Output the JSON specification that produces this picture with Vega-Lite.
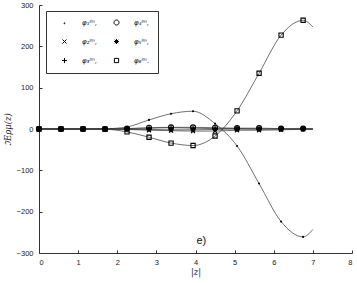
{
  "$schema": "https://vega.github.io/schema/vega-lite/v6.json",
  "width": 313,
  "height": 248,
  "autosize": "none",
  "padding": {"left": 39, "top": 5, "right": 5, "bottom": 30},
  "config": {
    "view": {"stroke": null},
    "font": "Liberation Sans",
    "axis": {"labelFont": "Liberation Sans", "labelFontSize": 7.5, "labelColor": "#222", "domainColor": "#333", "tickColor": "#333", "grid": false, "titleFont": "DejaVu Serif", "titleFontWeight": "normal", "titleFontStyle": "italic", "titleFontSize": 8.5, "titleColor": "#222"}
  },
  "datasets": {
    "curves": [
      {"s": "φ₁ˡᵐ,", "x": 0, "y": 0}, {"s": "φ₁ˡᵐ,", "x": 0.5625, "y": 0}, {"s": "φ₁ˡᵐ,", "x": 1.125, "y": 0}, {"s": "φ₁ˡᵐ,", "x": 1.6875, "y": 0.5},
      {"s": "φ₁ˡᵐ,", "x": 2.25, "y": 5}, {"s": "φ₁ˡᵐ,", "x": 2.8125, "y": 22}, {"s": "φ₁ˡᵐ,", "x": 3.375, "y": 37}, {"s": "φ₁ˡᵐ,", "x": 3.9375, "y": 43},
      {"s": "φ₁ˡᵐ,", "x": 4.5, "y": 13}, {"s": "φ₁ˡᵐ,", "x": 5.0625, "y": -41}, {"s": "φ₁ˡᵐ,", "x": 5.625, "y": -132}, {"s": "φ₁ˡᵐ,", "x": 6.1875, "y": -224},
      {"s": "φ₁ˡᵐ,", "x": 6.75, "y": -261}, {"s": "φ₁ˡᵐ,", "x": 7.0, "y": -243},

      {"s": "φ₂ˡᵐ,", "x": 0, "y": 0}, {"s": "φ₂ˡᵐ,", "x": 0.5625, "y": 0}, {"s": "φ₂ˡᵐ,", "x": 1.125, "y": 0}, {"s": "φ₂ˡᵐ,", "x": 1.6875, "y": 0},
      {"s": "φ₂ˡᵐ,", "x": 2.25, "y": -1}, {"s": "φ₂ˡᵐ,", "x": 2.8125, "y": -3}, {"s": "φ₂ˡᵐ,", "x": 3.375, "y": -4}, {"s": "φ₂ˡᵐ,", "x": 3.9375, "y": -5},
      {"s": "φ₂ˡᵐ,", "x": 4.5, "y": -5}, {"s": "φ₂ˡᵐ,", "x": 5.0625, "y": -3}, {"s": "φ₂ˡᵐ,", "x": 5.625, "y": -3}, {"s": "φ₂ˡᵐ,", "x": 6.1875, "y": -2},
      {"s": "φ₂ˡᵐ,", "x": 6.75, "y": -1}, {"s": "φ₂ˡᵐ,", "x": 7.0, "y": -1},

      {"s": "φ₃ˡᵐ,", "x": 0, "y": 0}, {"s": "φ₃ˡᵐ,", "x": 0.5625, "y": 0}, {"s": "φ₃ˡᵐ,", "x": 1.125, "y": 0}, {"s": "φ₃ˡᵐ,", "x": 1.6875, "y": 0},
      {"s": "φ₃ˡᵐ,", "x": 2.25, "y": 1}, {"s": "φ₃ˡᵐ,", "x": 2.8125, "y": 2}, {"s": "φ₃ˡᵐ,", "x": 3.375, "y": 3}, {"s": "φ₃ˡᵐ,", "x": 3.9375, "y": 2},
      {"s": "φ₃ˡᵐ,", "x": 4.5, "y": 1}, {"s": "φ₃ˡᵐ,", "x": 5.0625, "y": 1}, {"s": "φ₃ˡᵐ,", "x": 5.625, "y": 0}, {"s": "φ₃ˡᵐ,", "x": 6.1875, "y": 0},
      {"s": "φ₃ˡᵐ,", "x": 6.75, "y": 0}, {"s": "φ₃ˡᵐ,", "x": 7.0, "y": 0},

      {"s": "φ₄ˡᵐ,", "x": 0, "y": 0}, {"s": "φ₄ˡᵐ,", "x": 0.5625, "y": 0}, {"s": "φ₄ˡᵐ,", "x": 1.125, "y": 0}, {"s": "φ₄ˡᵐ,", "x": 1.6875, "y": 0},
      {"s": "φ₄ˡᵐ,", "x": 2.25, "y": 1}, {"s": "φ₄ˡᵐ,", "x": 2.8125, "y": 3}, {"s": "φ₄ˡᵐ,", "x": 3.375, "y": 4}, {"s": "φ₄ˡᵐ,", "x": 3.9375, "y": 4},
      {"s": "φ₄ˡᵐ,", "x": 4.5, "y": 3}, {"s": "φ₄ˡᵐ,", "x": 5.0625, "y": 2}, {"s": "φ₄ˡᵐ,", "x": 5.625, "y": 2}, {"s": "φ₄ˡᵐ,", "x": 6.1875, "y": 1},
      {"s": "φ₄ˡᵐ,", "x": 6.75, "y": 1}, {"s": "φ₄ˡᵐ,", "x": 7.0, "y": 1},

      {"s": "φ₅ˡᵐ,", "x": 0, "y": 0}, {"s": "φ₅ˡᵐ,", "x": 0.5625, "y": 0}, {"s": "φ₅ˡᵐ,", "x": 1.125, "y": 0}, {"s": "φ₅ˡᵐ,", "x": 1.6875, "y": 0},
      {"s": "φ₅ˡᵐ,", "x": 2.25, "y": -1}, {"s": "φ₅ˡᵐ,", "x": 2.8125, "y": -1}, {"s": "φ₅ˡᵐ,", "x": 3.375, "y": -2}, {"s": "φ₅ˡᵐ,", "x": 3.9375, "y": -2},
      {"s": "φ₅ˡᵐ,", "x": 4.5, "y": -1}, {"s": "φ₅ˡᵐ,", "x": 5.0625, "y": 0}, {"s": "φ₅ˡᵐ,", "x": 5.625, "y": 0}, {"s": "φ₅ˡᵐ,", "x": 6.1875, "y": 0},
      {"s": "φ₅ˡᵐ,", "x": 6.75, "y": 0}, {"s": "φ₅ˡᵐ,", "x": 7.0, "y": 0},

      {"s": "φ₆ˡᵐ.", "x": 0, "y": 0}, {"s": "φ₆ˡᵐ.", "x": 0.5625, "y": 0}, {"s": "φ₆ˡᵐ.", "x": 1.125, "y": 0}, {"s": "φ₆ˡᵐ.", "x": 1.6875, "y": -0.5},
      {"s": "φ₆ˡᵐ.", "x": 2.25, "y": -7}, {"s": "φ₆ˡᵐ.", "x": 2.8125, "y": -20}, {"s": "φ₆ˡᵐ.", "x": 3.375, "y": -34}, {"s": "φ₆ˡᵐ.", "x": 3.9375, "y": -40},
      {"s": "φ₆ˡᵐ.", "x": 4.5, "y": -17}, {"s": "φ₆ˡᵐ.", "x": 5.0625, "y": 44}, {"s": "φ₆ˡᵐ.", "x": 5.625, "y": 135}, {"s": "φ₆ˡᵐ.", "x": 6.1875, "y": 227},
      {"s": "φ₆ˡᵐ.", "x": 6.75, "y": 263}, {"s": "φ₆ˡᵐ.", "x": 7.0, "y": 247}
    ],
    "note": [{"x": 4.15, "y": -272, "t": "e)"}]
  },
  "encoding": {
    "x": {"field": "x", "type": "quantitative", "scale": {"domain": [0, 8], "nice": false},
          "axis": {"values": [0,1,2,3,4,5,6,7,8], "tickSize": -3, "labelPadding": 8, "title": "|z|", "titlePadding": 2}},
    "y": {"field": "y", "type": "quantitative", "scale": {"domain": [-300, 300], "nice": false},
          "axis": {"values": [-300,-200,-100,0,100,200,300], "tickSize": -3, "labelPadding": 9, "title": "ℑEρμ(z)", "titlePadding": 4}}
  },
  "layer": [
    {
      "data": {"name": "curves"},
      "mark": {"type": "line", "interpolate": "monotone", "color": "#333", "strokeWidth": 0.7},
      "encoding": {"detail": {"field": "s"}}
    },
    {
      "data": {"name": "curves"},
      "transform": [{"filter": "datum.x < 6.9"}],
      "mark": {"type": "point", "filled": false, "stroke": "#000", "strokeWidth": 1.1, "size": 25, "opacity": 1},
      "encoding": {
        "shape": {"field": "s", "type": "nominal",
          "scale": {"domain": ["φ₁ˡᵐ,", "φ₂ˡᵐ,", "φ₃ˡᵐ,", "φ₄ˡᵐ,", "φ₅ˡᵐ,", "φ₆ˡᵐ."],
                    "range": ["M-0.2,0A0.2,0.2 0 1,0 0.2,0A0.2,0.2 0 1,0 -0.2,0Z", "M-0.8,-0.8L0.8,0.8M-0.8,0.8L0.8,-0.8", "M-1,0L1,0M0,-1L0,1", "M-1,0A1,1 0 1,0 1,0A1,1 0 1,0 -1,0Z", "M-1,0L1,0M0,-1L0,1M-0.7,-0.7L0.7,0.7M-0.7,0.7L0.7,-0.7", "M-0.85,-0.85H0.85V0.85H-0.85Z"]},
          "legend": {"orient": "none", "legendX": 7, "legendY": 6, "title": null, "columns": 2, "strokeColor": "#333", "padding": 8, "rowPadding": 10, "columnPadding": 8, "symbolSize": 25, "symbolStrokeColor": "#000", "symbolStrokeWidth": 1, "symbolFillColor": "transparent", "symbolOffset": 7, "labelOffset": 14, "labelFont": "DejaVu Sans", "labelFontStyle": "oblique", "labelFontSize": 7, "labelColor": "#000"}
        }
      }
    },
    {
      "data": {"name": "note"},
      "mark": {"type": "text", "fontSize": 11, "font": "Liberation Sans", "color": "#111"},
      "encoding": {"text": {"field": "t"}}
    }
  ]
}
